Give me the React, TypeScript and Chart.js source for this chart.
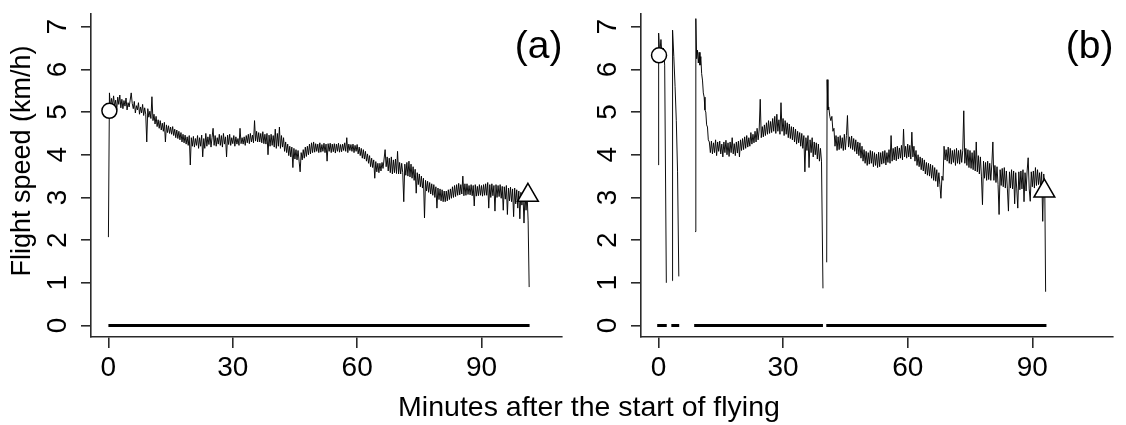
import React, { useEffect, useRef } from "react";
import { Chart, registerables } from "chart.js";

Chart.register(...registerables);

const FONT = '"Liberation Sans", Arial, Helvetica, sans-serif';

const xTickValues = [0, 30, 60, 90];
const yTickValues = [0, 1, 2, 3, 4, 5, 6, 7];
const xTitle = "Minutes after the start of flying";
const yTitle = "Flight speed (km/h)";

// ---- Panel (a): minutes after start, flight speed (km/h) ----
const aMinutes = [
  0,
  0.25, 0.5, 0.75, 1, 1.25, 1.5, 1.75, 2, 2.25, 2.5, 2.75, 3, 3.25, 3.5, 3.75, 4, 4.25, 4.5, 4.75, 5,
  5.25, 5.5, 5.75, 6, 6.25, 6.5, 6.75, 7, 7.25, 7.5, 7.75, 8, 8.25, 8.5, 8.75, 9, 9.25, 9.5, 9.75, 10,
  10.25, 10.5, 10.75, 11, 11.25, 11.5, 11.75, 12, 12.25, 12.5, 12.75, 13, 13.25, 13.5, 13.75, 14, 14.25, 14.5, 14.75, 15,
  15.25, 15.5, 15.75, 16, 16.25, 16.5, 16.75, 17, 17.25, 17.5, 17.75, 18, 18.25, 18.5, 18.75, 19, 19.25, 19.5, 19.75, 20,
  20.25, 20.5, 20.75, 21, 21.25, 21.5, 21.75, 22, 22.25, 22.5, 22.75, 23, 23.25, 23.5, 23.75, 24, 24.25, 24.5, 24.75, 25,
  25.25, 25.5, 25.75, 26, 26.25, 26.5, 26.75, 27, 27.25, 27.5, 27.75, 28, 28.25, 28.5, 28.75, 29, 29.25, 29.5, 29.75, 30,
  30.25, 30.5, 30.75, 31, 31.25, 31.5, 31.75, 32, 32.25, 32.5, 32.75, 33, 33.25, 33.5, 33.75, 34, 34.25, 34.5, 34.75, 35,
  35.25, 35.5, 35.75, 36, 36.25, 36.5, 36.75, 37, 37.25, 37.5, 37.75, 38, 38.25, 38.5, 38.75, 39, 39.25, 39.5, 39.75, 40,
  40.25, 40.5, 40.75, 41, 41.25, 41.5, 41.75, 42, 42.25, 42.5, 42.75, 43, 43.25, 43.5, 43.75, 44, 44.25, 44.5, 44.75, 45,
  45.25, 45.5, 45.75, 46, 46.25, 46.5, 46.75, 47, 47.25, 47.5, 47.75, 48, 48.25, 48.5, 48.75, 49, 49.25, 49.5, 49.75, 50,
  50.25, 50.5, 50.75, 51, 51.25, 51.5, 51.75, 52, 52.25, 52.5, 52.75, 53, 53.25, 53.5, 53.75, 54, 54.25, 54.5, 54.75, 55,
  55.25, 55.5, 55.75, 56, 56.25, 56.5, 56.75, 57, 57.25, 57.5, 57.75, 58, 58.25, 58.5, 58.75, 59, 59.25, 59.5, 59.75, 60,
  60.25, 60.5, 60.75, 61, 61.25, 61.5, 61.75, 62, 62.25, 62.5, 62.75, 63, 63.25, 63.5, 63.75, 64, 64.25, 64.5, 64.75, 65,
  65.25, 65.5, 65.75, 66, 66.25, 66.5, 66.75, 67, 67.25, 67.5, 67.75, 68, 68.25, 68.5, 68.75, 69, 69.25, 69.5, 69.75, 70,
  70.25, 70.5, 70.75, 71, 71.25, 71.5, 71.75, 72, 72.25, 72.5, 72.75, 73, 73.25, 73.5, 73.75, 74, 74.25, 74.5, 74.75, 75,
  75.25, 75.5, 75.75, 76, 76.25, 76.5, 76.75, 77, 77.25, 77.5, 77.75, 78, 78.25, 78.5, 78.75, 79, 79.25, 79.5, 79.75, 80,
  80.25, 80.5, 80.75, 81, 81.25, 81.5, 81.75, 82, 82.25, 82.5, 82.75, 83, 83.25, 83.5, 83.75, 84, 84.25, 84.5, 84.75, 85,
  85.25, 85.5, 85.75, 86, 86.25, 86.5, 86.75, 87, 87.25, 87.5, 87.75, 88, 88.25, 88.5, 88.75, 89, 89.25, 89.5, 89.75, 90,
  90.25, 90.5, 90.75, 91, 91.25, 91.5, 91.75, 92, 92.25, 92.5, 92.75, 93, 93.25, 93.5, 93.75, 94, 94.25, 94.5, 94.75, 95,
  95.25, 95.5, 95.75, 96, 96.25, 96.5, 96.75, 97, 97.25, 97.5, 97.75, 98, 98.25, 98.5, 98.75, 99, 99.25, 99.5, 99.75, 100,
  100.25, 100.5, 100.75, 101, 101.25, 101.5,
];
const aSpeed = [
  2.07,
  5.45, 5.10, 5.32, 5.15, 5.38, 5.12, 5.28, 5.05, 5.35, 5.18, 5.40, 5.10, 5.30, 5.08, 5.27, 5.14, 5.33, 5.05, 5.22, 5.12,
  5.28, 5.45, 5.20, 5.08, 5.25, 4.98, 5.15, 5.05, 5.22, 4.95, 5.12, 4.98, 5.18, 4.92, 5.10, 4.95, 4.30, 5.08, 4.88, 5.02,
  4.85, 5.36, 4.80, 4.95, 4.72, 4.90, 4.66, 4.82, 4.62, 4.80, 4.58, 4.74, 4.55, 4.76, 4.30, 4.70, 4.52, 4.68, 4.50, 4.65,
  4.48, 4.66, 4.45, 4.60, 4.40, 4.58, 4.38, 4.55, 4.35, 4.52, 4.30, 4.48, 4.28, 4.46, 4.25, 4.42, 4.22, 4.45, 3.76, 4.40,
  4.20, 4.43, 4.18, 4.38, 4.22, 4.45, 4.15, 4.40, 4.20, 4.46, 3.95, 4.38, 4.15, 4.50, 4.20, 4.42, 4.24, 4.48, 4.18, 4.40,
  4.62, 4.22, 4.45, 4.20, 4.40, 4.25, 4.48, 4.22, 4.45, 4.18, 4.50, 4.25, 4.42, 3.95, 4.46, 4.24, 4.48, 4.22, 4.40, 4.26,
  4.45, 4.20, 4.42, 4.25, 4.38, 4.22, 4.62, 4.26, 4.40, 4.25, 4.42, 4.22, 4.45, 4.28, 4.48, 4.26, 4.50, 4.30, 4.46, 4.28,
  4.80, 4.32, 4.55, 4.30, 4.52, 4.30, 4.50, 4.28, 4.54, 4.26, 4.48, 4.25, 4.50, 4.00, 4.46, 4.20, 4.48, 4.22, 4.45, 4.18,
  4.60, 4.15, 4.50, 4.20, 4.65, 4.15, 4.45, 4.18, 4.40, 4.08, 4.30, 4.05, 4.25, 3.98, 4.20, 3.95, 4.18, 3.70, 4.15, 3.90,
  4.12, 3.88, 4.10, 3.85, 3.60, 4.05, 3.88, 4.12, 3.92, 4.18, 3.96, 4.20, 4.00, 4.25, 4.02, 4.28, 4.05, 4.30, 4.06, 4.26,
  4.08, 4.25, 4.05, 4.28, 4.06, 4.24, 4.08, 4.27, 4.05, 4.25, 3.85, 4.26, 4.08, 4.27, 4.05, 4.25, 4.07, 4.26, 4.04, 4.25,
  4.08, 4.27, 4.06, 4.24, 4.07, 4.25, 4.10, 4.28, 4.08, 4.40, 4.05, 4.25, 4.10, 4.24, 4.08, 4.25, 4.05, 4.22, 4.08, 4.24,
  4.02, 4.18, 3.98, 4.15, 3.92, 4.12, 3.90, 4.08, 3.85, 4.02, 3.80, 3.98, 3.72, 3.92, 3.70, 3.88, 3.45, 3.84, 3.60, 3.80,
  3.58, 3.80, 3.62, 3.82, 3.68, 3.90, 4.12, 3.72, 3.95, 3.62, 3.92, 3.58, 3.95, 3.55, 3.88, 3.58, 3.90, 3.56, 4.08, 3.55,
  3.82, 3.55, 3.80, 3.58, 2.90, 3.78, 3.52, 3.82, 3.50, 3.85, 3.48, 3.78, 3.45, 3.72, 3.40, 3.66, 3.10, 3.58, 3.30, 3.55,
  3.25, 3.50, 3.22, 3.45, 2.52, 3.40, 3.15, 3.38, 3.12, 3.35, 3.08, 3.32, 3.05, 3.30, 3.00, 3.25, 2.75, 3.22, 2.95, 3.20,
  2.92, 3.18, 2.90, 3.15, 2.90, 3.15, 2.92, 3.18, 2.95, 3.20, 2.98, 3.25, 3.00, 3.28, 3.02, 3.30, 3.05, 3.33, 3.06, 3.30,
  3.08, 3.50, 3.04, 3.32, 3.05, 3.32, 3.07, 3.28, 3.06, 3.30, 3.04, 3.28, 2.80, 3.30, 3.03, 3.26, 3.04, 3.30, 3.05, 3.28,
  3.03, 3.30, 3.05, 3.32, 3.05, 3.35, 2.75, 3.30, 3.00, 3.32, 3.04, 3.28, 2.68, 3.30, 3.00, 3.28, 3.02, 3.30, 2.98, 3.26,
  2.70, 3.25, 2.96, 3.28, 2.60, 3.22, 2.92, 3.24, 2.90, 3.20, 2.55, 3.22, 2.85, 3.18, 2.75, 3.15, 2.50, 3.12, 2.82, 3.10,
  2.40, 3.05, 2.70, 3.08, 2.45, 0.90,
];
const aFlightMinutes = [0, 101.6];
const aFlightLevel = [0, 0];
const aStartMinute = [0.24];
const aStartSpeed = [5.03];
const aEndMinute = [101.2];
const aEndSpeed = [3.05];

// ---- Panel (b) ----
const bMinutes = [
  0, 0.05, 0.3, 0.6, 0.9, 1.2, 1.5, 1.9, 2.5,
  3.3, 3.4, 3.7, 4.0, 4.3, 4.6, 4.9, 6.5,
  8.8, 9.0, 9.2, 9.4, 9.6, 9.8, 10.0, 10.2, 10.4, 10.6, 10.8, 11.0, 11.2, 11.4, 11.6, 11.8, 12.0, 12.25,
  12.5, 12.75, 13,
  13.25, 13.5, 13.75, 14, 14.25, 14.5, 14.75, 15, 15.25, 15.5, 15.75, 16, 16.25, 16.5, 16.75, 17,
  17.25, 17.5, 17.75, 18, 18.25, 18.5, 18.75, 19, 19.25, 19.5, 19.75, 20, 20.25, 20.5, 20.75, 21,
  21.25, 21.5, 21.75, 22, 22.25, 22.5, 22.75, 23, 23.25, 23.5, 23.75, 24, 24.25, 24.5, 24.75, 25,
  25.25, 25.5, 25.75, 26, 26.25, 26.5, 26.75, 27, 27.25, 27.5, 27.75, 28, 28.25, 28.5, 28.75, 29,
  29.25, 29.5, 29.75, 30, 30.25, 30.5, 30.75, 31, 31.25, 31.5, 31.75, 32, 32.25, 32.5, 32.75, 33,
  33.25, 33.5, 33.75, 34, 34.25, 34.5, 34.75, 35, 35.25, 35.5, 35.75, 36, 36.25, 36.5, 36.75, 37,
  37.25, 37.5, 37.75, 38, 38.25, 38.5, 38.75, 39, 39.25,
  39.6, 40.0, 40.5, 40.6, 40.8, 41.0, 41.25, 41.5, 41.75, 42.0, 42.25, 42.5, 42.75, 43.0,
  43.25, 43.5, 43.75, 44, 44.25, 44.5, 44.75, 45, 45.25, 45.5, 45.75, 46, 46.25, 46.5, 46.75, 47,
  47.25, 47.5, 47.75, 48, 48.25, 48.5, 48.75, 49, 49.25, 49.5, 49.75, 50, 50.25, 50.5, 50.75, 51,
  51.25, 51.5, 51.75, 52, 52.25, 52.5, 52.75, 53, 53.25, 53.5, 53.75, 54, 54.25, 54.5, 54.75, 55,
  55.25, 55.5, 55.75, 56, 56.25, 56.5, 56.75, 57, 57.25, 57.5, 57.75, 58, 58.25, 58.5, 58.75, 59,
  59.25, 59.5, 59.75, 60, 60.25, 60.5, 60.75, 61, 61.25, 61.5, 61.75, 62, 62.25, 62.5, 62.75, 63,
  63.25, 63.5, 63.75, 64, 64.25, 64.5, 64.75, 65, 65.25, 65.5, 65.75, 66, 66.25, 66.5, 66.75, 67,
  67.25, 67.5, 67.75, 68, 68.25, 68.5, 68.75, 69, 69.25, 69.5, 69.75, 70, 70.25, 70.5, 70.75, 71,
  71.25, 71.5, 71.75, 72, 72.25, 72.5, 72.75, 73, 73.25, 73.5, 73.75, 74, 74.25, 74.5, 74.75, 75,
  75.25, 75.5, 75.75, 76, 76.25, 76.5, 76.75, 77, 77.25, 77.5, 77.75, 78, 78.25, 78.5, 78.75, 79,
  79.25, 79.5, 79.75, 80, 80.25, 80.5, 80.75, 81, 81.25, 81.5, 81.75, 82, 82.25, 82.5, 82.75, 83,
  83.25, 83.5, 83.75, 84, 84.25, 84.5, 84.75, 85, 85.25, 85.5, 85.75, 86, 86.25, 86.5, 86.75, 87,
  87.25, 87.5, 87.75, 88, 88.25, 88.5, 88.75, 89, 89.25, 89.5, 89.75, 90, 90.25, 90.5, 90.75, 91,
  91.25, 91.5, 91.75, 92, 92.25, 92.5, 92.75, 93,
  93.2,
];
const bSpeed = [
  3.76, 6.85, 6.35, 6.70, 6.25, 6.50, 6.10, 1.00, null,
  1.05, 6.92, 6.30, 5.60, 4.80, 3.60, 1.15, null,
  2.20, 7.19, 6.25, 6.45, 6.15, 6.40, 6.10, 6.30, 5.90, 5.75, 5.45, 5.35, 5.05, 5.00, 4.70, 4.65, 4.35, 4.30,
  4.05, 4.32, 4.02,
  4.28, 4.05, 4.35, 3.98, 4.30, 4.08, 4.32, 4.02, 4.25, 3.95, 4.30, 4.05, 4.34, 4.00, 4.28, 3.96,
  4.30, 4.05, 4.40, 4.02, 4.26, 3.98, 4.30, 4.04, 4.32, 3.95, 4.35, 4.10, 4.38, 4.12, 4.42, 4.15,
  4.45, 4.18, 4.40, 4.20, 4.52, 4.25, 4.48, 4.28, 4.55, 4.30, 4.62, 4.35, 4.58, 5.30, 4.40, 4.66,
  4.42, 4.70, 4.45, 4.75, 4.48, 4.80, 4.50, 4.78, 4.52, 4.85, 4.55, 4.90, 4.50, 4.95, 4.55, 4.82,
  4.48, 5.22, 4.55, 4.85, 4.45, 4.80, 4.48, 4.75, 4.40, 4.72, 4.38, 4.66, 4.35, 4.65, 4.30, 4.60,
  4.25, 4.55, 4.28, 4.52, 4.20, 4.50, 4.15, 4.45, 3.60, 4.40, 4.10, 4.45, 3.70, 4.35, 4.05, 4.40,
  3.95, 4.30, 4.00, 4.28, 3.90, 4.25, 3.85, 4.15, 3.85,
  0.87, null, 1.48, 5.76, 5.05, 5.12, 4.90, 4.80, 4.90, 4.55, 4.62, 4.20, 4.45, 4.10,
  4.42, 4.12, 4.45, 4.15, 4.40, 4.10, 4.48, 4.12, 4.45, 4.92, 4.18, 4.42, 4.15, 4.44, 4.12, 4.38,
  4.08, 4.35, 4.02, 4.30, 3.98, 4.28, 3.92, 4.20, 3.85, 4.12, 3.80, 4.08, 3.75, 4.05, 3.78, 4.10,
  3.80, 4.08, 3.72, 4.05, 3.75, 4.02, 3.70, 4.06, 3.72, 4.05, 3.78, 4.08, 3.80, 4.10, 3.76, 4.05,
  3.82, 4.12, 3.80, 4.45, 3.85, 4.15, 3.88, 4.18, 3.86, 4.20, 3.90, 4.16, 3.92, 4.22, 3.88, 4.60,
  3.95, 4.20, 3.92, 4.25, 3.95, 4.22, 3.90, 4.53, 3.95, 4.20, 3.85, 4.10, 3.75, 4.00, 3.72, 3.95,
  3.65, 3.92, 3.62, 3.88, 3.55, 3.82, 3.52, 3.80, 3.50, 3.78, 3.45, 3.75, 3.40, 3.70, 3.38, 3.65,
  3.25, 3.58, 3.30, 2.98, 3.50, 3.40, 4.20, 3.88, 4.12, 3.85, 4.18, 3.80, 4.15, 3.78, 4.10, 3.82,
  4.12, 3.75, 4.15, 3.80, 4.10, 3.78, 4.12, 3.82, 4.10, 5.03, 3.80, 4.15, 3.75, 4.12, 3.70, 4.10,
  3.68, 4.05, 3.65, 4.10, 3.62, 4.30, 3.60, 3.98, 3.55, 3.95, 3.50, 2.83, 3.85, 3.45, 3.82, 3.40,
  3.85, 3.42, 3.80, 3.40, 3.78, 4.30, 3.40, 3.75, 3.35, 3.72, 3.30, 2.60, 3.65, 3.28, 3.68, 3.25,
  3.70, 3.22, 3.62, 3.20, 2.68, 3.60, 3.22, 3.65, 3.20, 3.62, 2.85, 3.58, 3.20, 2.75, 3.60, 3.18,
  3.62, 3.20, 3.65, 2.90, 3.58, 3.15, 3.62, 3.93, 3.20, 2.91, 3.60, 3.25, 3.62, 3.22, 3.70, 3.28,
  3.65, 3.30, 3.58, 3.25, 3.60, 2.44, 3.55, 3.20,
  0.79,
];
const bFlightMinutes = [-0.3, 2.0, 2.5, 3.1, 5.0, 6.5, 8.6, 39.6, 40.0, 40.4, 93.4];
const bFlightLevel = [0, 0, null, 0, 0, null, 0, 0, null, 0, 0];
const bStartMinute = [0.14];
const bStartSpeed = [6.33];
const bEndMinute = [92.9];
const bEndSpeed = [3.15];

const X_MIN = -4.2;
const X_MAX = 109.3;
const Y_MIN = -0.27;
const Y_MAX = 7.31;
const AXIS_COLOR = "#2a2a2a";

type PanelProps = {
  left: number;
  width: number;
  axisLeft: number;
  padRight: number;
  minutes: number[];
  speed: (number | null)[];
  flightMinutes: number[];
  flightLevel: (number | null)[];
  startMinute: number[];
  startSpeed: number[];
  endMinute: number[];
  endSpeed: number[];
  label: string;
  showYTitle: boolean;
};

function Panel(props: PanelProps) {
  const ref = useRef<HTMLCanvasElement | null>(null);
  useEffect(() => {
    const canvas = ref.current;
    if (!canvas) return;
    const textPlugin = {
      id: "panelText",
      afterDraw(chart: any) {
        const ctx = chart.ctx as CanvasRenderingContext2D;
        const ys = chart.scales.y;
        const area = chart.chartArea;
        ctx.save();
        ctx.fillStyle = "#000";
        ctx.font = `28px ${FONT}`;
        ctx.textAlign = "center";
        ctx.textBaseline = "alphabetic";
        for (const v of yTickValues) {
          const py = ys.getPixelForValue(v);
          ctx.save();
          ctx.translate(area.left - 25.5, py);
          ctx.rotate(-Math.PI / 2);
          ctx.fillText(String(v), 0, 0);
          ctx.restore();
        }
        if (props.showYTitle) {
          ctx.font = `27px ${FONT}`;
          ctx.save();
          ctx.translate(29.5, 161);
          ctx.rotate(-Math.PI / 2);
          ctx.fillText(yTitle, 0, 0);
          ctx.restore();
        }
        ctx.font = `39px ${FONT}`;
        ctx.textAlign = "right";
        ctx.fillText(props.label, area.right + 1, 57.5);
        ctx.restore();
      },
    };

    const toPoints = (xs: number[], ys: (number | null)[]) =>
      xs.map((x, i) => ({ x, y: ys[i] }));

    const chart = new Chart(canvas, {
      type: "scatter",
      data: {
        datasets: [
          {
            data: toPoints(props.startMinute, props.startSpeed),
            pointStyle: "circle",
            pointRadius: 7.5,
            pointBackgroundColor: "#ffffff",
            pointBorderColor: "#000000",
            pointBorderWidth: 1.5,
            showLine: false,
          },
          {
            data: toPoints(props.endMinute, props.endSpeed),
            pointStyle: "triangle",
            pointRadius: 12,
            pointBackgroundColor: "#ffffff",
            pointBorderColor: "#000000",
            pointBorderWidth: 1.5,
            showLine: false,
          },
          {
            data: toPoints(props.minutes, props.speed),
            showLine: true,
            borderColor: "#000000",
            borderWidth: 0.95,
            pointRadius: 0,
            spanGaps: false,
            tension: 0,
          },
          {
            data: toPoints(props.flightMinutes, props.flightLevel),
            showLine: true,
            borderColor: "#000000",
            borderWidth: 3,
            pointRadius: 0,
            spanGaps: false,
          },
        ] as any,
      },
      options: {
        animation: false,
        responsive: false,
        maintainAspectRatio: false,
        devicePixelRatio: 1,
        events: [],
        layout: { padding: { left: 0, right: props.padRight, top: 10, bottom: 0 } },
        plugins: { legend: { display: false }, tooltip: { enabled: false } },
        scales: {
          x: {
            type: "linear",
            min: X_MIN,
            max: X_MAX,
            afterBuildTicks: (s: any) => {
              s.ticks = xTickValues.map((v) => ({ value: v }));
            },
            afterFit: (s: any) => {
              s.height = 88;
            },
            grid: {
              display: true,
              drawOnChartArea: false,
              drawTicks: true,
              tickLength: 11,
              color: AXIS_COLOR,
              lineWidth: 1.6,
            },
            border: { display: true, color: AXIS_COLOR, width: 1.6 },
            ticks: {
              color: "#000",
              font: { family: FONT, size: 28 },
              padding: 3,
              maxRotation: 0,
              minRotation: 0,
              autoSkip: false,
            },
          },
          y: {
            type: "linear",
            min: Y_MIN,
            max: Y_MAX,
            afterBuildTicks: (s: any) => {
              s.ticks = yTickValues.map((v) => ({ value: v }));
            },
            afterFit: (s: any) => {
              s.width = props.axisLeft;
            },
            grid: {
              display: true,
              drawOnChartArea: false,
              drawTicks: true,
              tickLength: 10,
              color: AXIS_COLOR,
              lineWidth: 1.6,
            },
            border: { display: true, color: AXIS_COLOR, width: 1.6 },
            ticks: { display: false },
          },
        },
      } as any,
      plugins: [textPlugin],
    });
    return () => chart.destroy();
  }, []);
  return (
    <canvas
      ref={ref}
      width={props.width}
      height={425}
      style={{ position: "absolute", left: props.left, top: 0, width: props.width, height: 425 }}
    />
  );
}

export default function App() {
  return (
    <div
      style={{
        position: "absolute",
        left: 0,
        top: 0,
        width: 1126,
        height: 425,
        background: "#fff",
        overflow: "hidden",
      }}
    >
      <Panel
        left={0}
        width={575}
        axisLeft={91}
        padRight={3}
        minutes={aMinutes}
        speed={aSpeed}
        flightMinutes={aFlightMinutes}
        flightLevel={aFlightLevel}
        startMinute={aStartMinute}
        startSpeed={aStartSpeed}
        endMinute={aEndMinute}
        endSpeed={aEndSpeed}
        label="(a)"
        showYTitle={true}
      />
      <Panel
        left={575}
        width={551}
        axisLeft={66}
        padRight={3.3}
        minutes={bMinutes}
        speed={bSpeed}
        flightMinutes={bFlightMinutes}
        flightLevel={bFlightLevel}
        startMinute={bStartMinute}
        startSpeed={bStartSpeed}
        endMinute={bEndMinute}
        endSpeed={bEndSpeed}
        label="(b)"
        showYTitle={false}
      />
      <div
        style={{
          position: "absolute",
          left: 189,
          width: 800,
          top: 392,
          textAlign: "center",
          font: `28.5px ${FONT}`,
          lineHeight: "28px",
          color: "#000",
          whiteSpace: "nowrap",
        }}
      >
        {xTitle}
      </div>
    </div>
  );
}
